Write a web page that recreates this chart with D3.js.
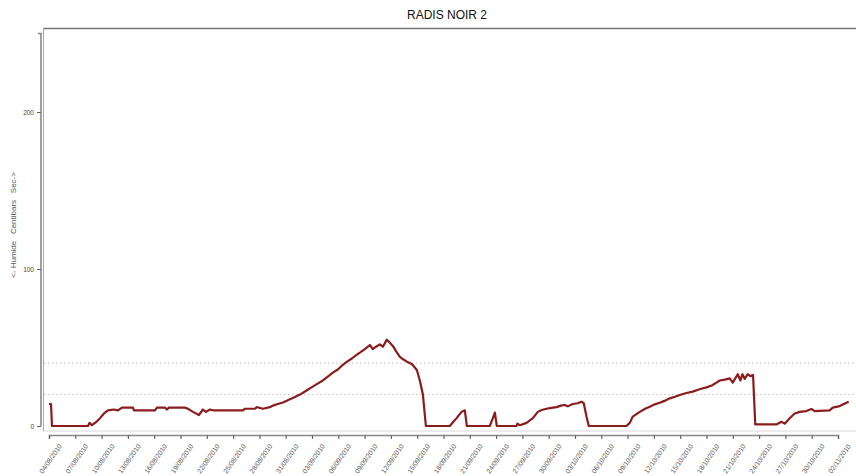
<!DOCTYPE html>
<html>
<head>
<meta charset="utf-8">
<script src="https://cdn.jsdelivr.net/npm/d3@7"></script>
<style>
  body { margin: 0; background: #fff; }
  svg { display: block; font-family: "Liberation Sans", Arial, sans-serif; }
</style>
</head>
<body>
<div id="chart"></div>
<script>
const svgWidth = 856;
const svgHeight = 476;

// readings: days after 04/08/2010 and soil tension (centibars)
const dayOffset = [
  0, 0.23, 0.34, 4.45, 4.62, 4.9, 5.47, 5.82, 6.27, 6.73, 7.41, 7.87, 8.32, 9.58, 9.69,
  12.09, 12.31, 13.23, 13.45, 13.68, 15.51, 15.85, 16.42, 17.1, 17.56, 17.9, 18.36, 18.7,
  22.12, 22.35, 23.49, 23.72, 24.4, 25.2, 25.54, 26.1, 26.68, 27.48, 28.05, 28.62, 29.2,
  29.76, 30.5, 31.24, 31.8, 32.38, 32.95, 33.52, 34.0, 34.55, 35.0, 35.46, 36.03, 36.6,
  36.94, 37.3, 37.74, 38.08, 38.54, 38.8, 39.22, 39.6, 40.02, 40.4, 40.82, 41.39, 41.96,
  42.3, 42.65, 42.99, 45.72, 46.1, 46.49, 47.06, 47.43, 47.55, 47.66, 50.28, 50.6, 50.86,
  51.08, 53.33, 53.42, 53.71, 54.47, 55.19, 55.76, 56.2, 56.75, 57.3, 57.89, 58.4, 58.84,
  59.18, 59.75, 60.3, 60.74, 61.0, 61.31, 61.57, 65.87, 66.25, 66.59, 67.39, 68.0, 68.53,
  69.1, 69.67, 70.2, 70.81, 71.4, 71.95, 72.7, 73.43, 74.2, 75.0, 75.6, 76.13, 76.51, 77.1,
  77.65, 77.99, 78.56, 78.87, 79.1, 79.36, 79.7, 80.0, 80.31, 80.56, 82.97, 83.54, 83.92,
  84.49, 85.06, 85.63, 86.4, 86.97, 87.34, 89.05, 89.4, 90.19, 90.96, 91.22
];
const tension = [
  14, 14, 0, 0, 2, 0.5, 3, 5, 8, 10, 10.5, 10, 11.7, 11.7, 10,
  10, 11.7, 11.7, 10.5, 11.7, 11.7, 11, 9, 7, 10.5, 9, 10.5, 10,
  10, 11, 11, 12, 11, 12, 13, 14, 15, 17, 18.5, 20, 22,
  24, 26.5, 29, 31.5, 34, 36, 39, 41, 43, 45, 46.7, 49, 51.6,
  49, 50.5, 52, 50.5, 55, 53.5, 51, 47.5, 44, 42.5, 41, 39.5, 35.7,
  29, 20, 0, 0, 2.5, 5, 9, 10, 5, 0, 0, 4.5, 8.5,
  0, 0, 1.5, 0.5, 2, 5, 9, 10.2, 11, 11.5, 12, 13, 13.4,
  12.5, 14, 14.5, 15.5, 14.5, 6, 0, 0, 2, 6, 9, 11, 12.3,
  13.8, 14.8, 16, 17.6, 18.6, 19.7, 21, 21.9, 23.4, 24.6, 25.8, 27.6, 29, 29.5,
  30.3, 27.6, 33, 29, 33, 30, 33, 31.8, 32.5, 1, 1, 2.7, 1.5,
  4.9, 8, 9, 9.5, 10.8, 9.5, 10, 11.7, 12.7, 14.8, 15.5
];

const yTicks = [0, 100, 200];
const refLevels = [20, 40];
const xTickDates = [
  "04/08/2010", "07/08/2010", "10/08/2010", "13/08/2010", "16/08/2010", "19/08/2010",
  "22/08/2010", "25/08/2010", "28/08/2010", "31/08/2010", "03/09/2010", "06/09/2010",
  "09/09/2010", "12/09/2010", "15/09/2010", "18/09/2010", "21/09/2010", "24/09/2010",
  "27/09/2010", "30/09/2010", "03/10/2010", "06/10/2010", "09/10/2010", "12/10/2010",
  "15/10/2010", "18/10/2010", "21/10/2010", "24/10/2010", "27/10/2010", "30/10/2010",
  "02/11/2010"
];

const parseDay = d3.timeParse("%d/%m/%Y");
const startDate = parseDay("04/08/2010");
const data = dayOffset.map((d, i) => ({
  date: new Date(startDate.getTime() + d * 864e5),
  value: tension[i],
}));

const svg = d3.select("#chart")
  .append("svg")
  .attr("width", svgWidth)
  .attr("height", svgHeight);

const xScale = d3.scaleTime()
  .domain([startDate, parseDay("02/11/2010")])
  .range([49, 838]);
const yScale = d3.scaleLinear().domain([0, 250]).range([426, 33.5]);

// plot frame
svg.append("rect")
  .attr("x", 43.5)
  .attr("y", 28.5)
  .attr("width", 830)
  .attr("height", 402.5)
  .attr("fill", "none")
  .attr("stroke", "#d8d8d8")
  .attr("stroke-width", 1);
svg.append("line")
  .attr("x1", 43.5).attr("x2", 860)
  .attr("y1", 28.5).attr("y2", 28.5)
  .attr("stroke", "#777").attr("stroke-width", 1.6);
svg.append("line")
  .attr("x1", 43.5).attr("x2", 43.5)
  .attr("y1", 28.5).attr("y2", 431)
  .attr("stroke", "#aaa").attr("stroke-width", 1);

// reference levels
svg.selectAll("line.ref")
  .data(refLevels)
  .join("line")
  .attr("class", "ref")
  .attr("x1", 44).attr("x2", 856)
  .attr("y1", (d) => yScale(d)).attr("y2", (d) => yScale(d))
  .attr("stroke", "#c4c4c4")
  .attr("stroke-width", 1)
  .attr("stroke-dasharray", "1.5,2.5");

// y axis
const yAxis = svg.append("g")
  .attr("transform", "translate(41,0)")
  .call(d3.axisLeft(yScale).tickValues(yTicks).tickSize(4).tickPadding(3));
yAxis.select(".domain").attr("stroke", "#888").attr("stroke-width", 1.6).attr("d", "M-3,33.5H0V426");
yAxis.selectAll(".tick line").attr("stroke", "#666");
yAxis.selectAll(".tick text").attr("font-size", "6.5px").attr("fill", "#444");

svg.append("text")
  .attr("transform", "translate(16,225) rotate(-90)")
  .attr("text-anchor", "middle")
  .attr("font-size", "8px")
  .attr("fill", "#555")
  .attr("xml:space", "preserve")
  .text("<- Humide   Centibars   Sec->");

// x axis
const xAxis = svg.append("g")
  .attr("transform", "translate(0,435)")
  .call(d3.axisBottom(xScale)
    .tickValues(xTickDates.map(parseDay))
    .tickSize(4)
    .tickFormat(""));
xAxis.select(".domain").attr("stroke", "#888").attr("stroke-width", 1.4);
xAxis.selectAll(".tick line").attr("stroke", "#666").attr("stroke-width", 1.2);

svg.selectAll("text.xlab")
  .data(xTickDates)
  .join("text")
  .attr("class", "xlab")
  .attr("transform", (d) => `translate(${xScale(parseDay(d)) + 2},459) rotate(-55)`)
  .attr("text-anchor", "middle")
  .attr("dominant-baseline", "middle")
  .attr("font-size", "6.8px")
  .attr("fill", "#555")
  .text((d) => d);

// series
const line = d3.line()
  .x((d) => xScale(d.date))
  .y((d) => yScale(d.value));

svg.append("path")
  .datum(data)
  .attr("fill", "none")
  .attr("stroke", "#8b1c1c")
  .attr("stroke-width", 2.2)
  .attr("stroke-linejoin", "round")
  .attr("d", line);

svg.append("text")
  .attr("x", 447)
  .attr("y", 19)
  .attr("text-anchor", "middle")
  .attr("font-size", "12px")
  .attr("fill", "#111")
  .text("RADIS NOIR 2");
</script>
</body>
</html>
